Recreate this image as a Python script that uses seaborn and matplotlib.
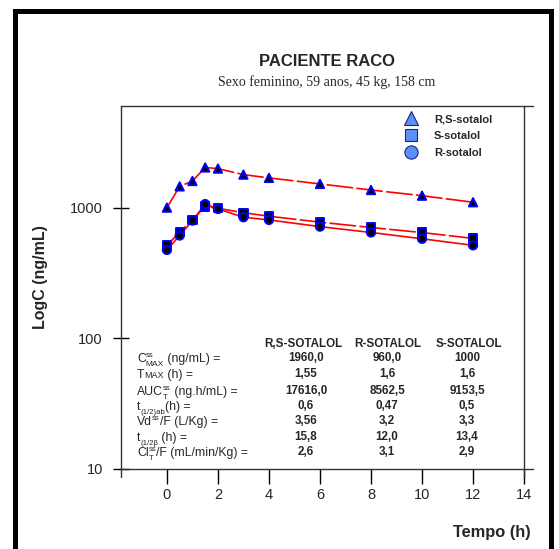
import matplotlib
matplotlib.use('Agg')
import matplotlib.pyplot as plt
from matplotlib.lines import Line2D
from matplotlib.patches import Rectangle
import seaborn as sns
import pandas as pd

# sampling times (h)
tempo = [0, 0.5, 1, 1.5, 2, 3, 4, 6, 8, 10, 12]

# concentrations (ng/mL)
conc_rs = [1000, 1455, 1600, 2030, 1990, 1790, 1690, 1520, 1365, 1235, 1100]
conc_s = [515, 648, 805, 1020, 990, 915, 860, 775, 705, 645, 582]
conc_r = [475, 612, 796, 1065, 978, 845, 806, 716, 646, 578, 515]

series = ['R,S-sotalol', 'S-sotalol', 'R-sotalol']

# table of parameters
col_heads = ['R,S-SOTALOL', 'R-SOTALOL', 'S-SOTALOL']
# label pieces: (text, kind, advance) - kind n=normal, sup, sub, small
row_labels = [
    [('C', 'n', 1), ('ss', 'sup', 0), ('MAX', 'small_sub', 1), (' (ng/mL) =', 'n', 1)],
    [('T', 'n', 1), ('MAX', 'small', 1), (' (h) =', 'n', 1)],
    [('AUC', 'n', 1), ('T', 'sub', 0), ('ss', 'sup', 1), (' (ng.h/mL) =', 'n', 1)],
    [('t', 'n', 1), ('(1/2)ab', 'sub', 1), ('(h) =', 'n', 1)],
    [('Vd', 'n', 1), ('ss', 'sup', 1), ('/F (L/Kg) =', 'n', 1)],
    [('t', 'n', 1), ('(1/2\u03b2', 'sub', 1), (' (h) =', 'n', 1)],
    [('Cl', 'n', 1), ('T', 'sub', 0), ('ss', 'sup', 1), ('/F (mL/min/Kg) =', 'n', 1)],
]
vals_rs = ['1960,0', '1,55', '17616,0', '0,6', '3,56', '15,8', '2,6']
vals_r = ['960,0', '1,6', '8562,5', '0,47', '3,2', '12,0', '3,1']
vals_s = ['1000', '1,6', '9153,5', '0,5', '3,3', '13,4', '2,9']


def build_df():
    parts = []
    for name, vals in zip(series, [conc_rs, conc_s, conc_r]):
        parts.append(pd.DataFrame({'tempo': tempo, 'conc': vals, 'serie': name}))
    return pd.concat(parts, ignore_index=True)


df = build_df()

sns.set_style('ticks')
plt.rcParams['font.family'] = ['Liberation Sans', 'DejaVu Sans']

W, H = 559, 549
fig = plt.figure(figsize=(W / 100, H / 100), dpi=100)
ax = fig.add_axes([121 / W, 1 - 469 / H, (533 - 121) / W, (469 - 106) / H])
renderer = fig.canvas.get_renderer()


def fx(px):
    return px / W


def fy(py):
    return 1 - py / H


def draw_label(x0, base, pieces):
    # (size, vertical shift in px, upwards positive)
    styles = {'n': (8.8, 0), 'sup': (5.6, 5.2), 'sub': (5.6, -3.6),
              'small': (6.5, 0), 'small_sub': (6.0, -4.0)}
    x = x0
    held = 0
    for txt, kind, adv in pieces:
        size, dy = styles[kind]
        t = fig.text(fx(x), fy(base - dy), txt, ha='left', va='baseline',
                     fontsize=size)
        w = t.get_window_extent(renderer).width
        held = max(held, w)
        if adv:
            x += held
            held = 0


sns.lineplot(data=df, x='tempo', y='conc', hue='serie', style='serie',
             palette={s: 'red' for s in series},
             dashes={'R,S-sotalol': (16, 2), 'S-sotalol': (16, 2), 'R-sotalol': ''},
             lw=1.2, sort=False, legend=False, ax=ax, zorder=2)
sns.scatterplot(data=df, x='tempo', y='conc', style='serie',
                markers={'R,S-sotalol': '^', 'S-sotalol': 's', 'R-sotalol': 'o'},
                color='black', edgecolor='blue', linewidth=1.4, s=36,
                legend=False, ax=ax, zorder=3)

ax.set_yscale('log')
ax.set_ylim(10, 6000)
ax.set_xlim(-1.8, 14.35)
ax.set_xticks(range(0, 15, 2))
ax.set_yticks([10, 100, 1000])
ax.set_yticklabels(['10', '100', '1000'])
ax.minorticks_off()
ax.tick_params(axis='y', direction='inout', length=12, width=1, pad=7,
               labelsize=10.5, color='black')
ax.tick_params(axis='x', direction='out', length=10.5, width=1, pad=3,
               labelsize=10.5, color='black')
ax.set_xlabel('')
ax.set_ylabel('')
for side in ['left', 'top', 'bottom']:
    ax.spines[side].set_color('#333333')
    ax.spines[side].set_linewidth(1)
ax.spines['left'].set_visible(False)
ax.spines['right'].set_visible(False)
ax.axvline(-1.8, ymin=-0.022, ymax=1, color='#333333', lw=1, clip_on=False)
ax.axvline(14, ymin=-0.022, ymax=1, color='#333333', lw=1, clip_on=False)

# legend
handles = [Line2D([], [], ls='', marker=m, ms=ms, mfc='#5b8ff9', mec='#1a237e', mew=0.8)
           for m, ms in zip(['^', 's', 'o'], [9.5, 9, 9.5])]
fig.legend(handles, series, loc='upper left', bbox_to_anchor=(fx(403), fy(114)),
           frameon=False, borderpad=0, borderaxespad=0, handlelength=1.5,
           handletextpad=1.3, labelspacing=0.62, prop={'weight': 'bold', 'size': 8})

# titles
fig.text(fx(327), fy(62), 'PACIENTE RACO', ha='center', va='center',
         fontsize=12, fontweight='bold')
fig.text(fx(327), fy(82), 'Sexo feminino, 59 anos, 45 kg, 158 cm', ha='center',
         va='center', fontsize=10, family='Liberation Serif')
fig.text(fx(40), fy(277), 'LogC (ng/mL)', rotation=90, ha='center', va='center',
         fontsize=11.5, fontweight='bold')
fig.text(fx(531), fy(533), 'Tempo (h)', ha='right', va='center',
         fontsize=11.8, fontweight='bold')

# parameter table
col_x = [303, 388, 469]
for cx, head in zip(col_x, col_heads):
    fig.text(fx(cx), fy(344), head, ha='center', va='center', fontsize=8.4,
             fontweight='bold')
row_y = [358, 374, 391, 406, 421, 437, 452]
for ry, lab, a, b, c in zip(row_y, row_labels, vals_rs, vals_r, vals_s):
    draw_label(137, ry + 4, lab)
    for cx, v in zip([306, 387, 467], [a, b, c]):
        fig.text(fx(cx), fy(ry), v, ha='center', va='center', fontsize=8.4,
                 fontweight='bold')

# outer frame
fig.patches.append(Rectangle((fx(15), -0.05), fx(551) - fx(15), fy(11) + 0.05,
                             transform=fig.transFigure, fill=False, lw=3.6,
                             ec='black', zorder=10))

fig.savefig('out.png', dpi=100)
